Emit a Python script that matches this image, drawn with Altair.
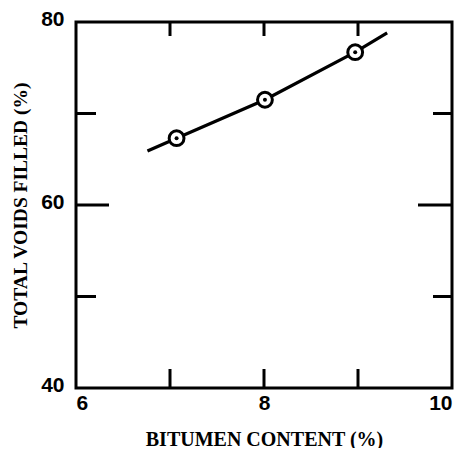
import altair as alt
import pandas as pd

# Data
bitumen = [7.07, 8.01, 8.97]
voids_filled = [67.3, 71.5, 76.7]
# fitted curve drawn through the points
curve_x = [6.76, 7.07, 8.01, 8.97, 9.31]
curve_y = [65.9, 67.3, 71.5, 76.7, 78.8]

x_labels = [6, 8, 10]
y_labels = [40, 60, 80]
x_minor = [7, 8, 9]
y_minor = [50, 70]
y_major = [60]

W, H = 376, 366
XT = "BITUMEN CONTENT (%)"
YT = "TOTAL VOIDS FILLED (%)"

pts = pd.DataFrame({"x": bitumen, "y": voids_filled})
curve = pd.DataFrame({"x": curve_x, "y": curve_y})
xt = pd.DataFrame({"x": x_minor})
ytm = pd.DataFrame({"y": y_minor})
ytM = pd.DataFrame({"y": y_major})

xs = alt.Scale(domain=[6, 10], nice=False, zero=False)
ys = alt.Scale(domain=[40, 80], nice=False, zero=False)

xax = alt.Axis(values=x_labels, title=XT, format="d", labelPadding=4,
               titlePadding=16, titleFontSize=20)
yax = alt.Axis(values=y_labels, title=YT, format="d", labelPadding=12,
               labelOffset=-3, titlePadding=10, titleFontSize=19.5)

xp = alt.X("x:Q", scale=xs, axis=xax)
yp = alt.Y("y:Q", scale=ys, axis=yax)

line = alt.Chart(curve).mark_line(color="black", strokeWidth=3.2).encode(
    x=xp, y=yp, order=alt.Order("x:Q"))

circles = alt.Chart(pts).mark_point(shape="circle", size=220, filled=False,
                                    fill="white", fillOpacity=1, color="black",
                                    strokeWidth=3, opacity=1).encode(x=xp, y=yp)
dots = alt.Chart(pts).mark_point(shape="circle", size=16, filled=True,
                                 color="black", opacity=1).encode(x=xp, y=yp)

tick_style = dict(color="black", strokeWidth=3)
bottom_ticks = alt.Chart(xt).mark_rule(**tick_style).encode(
    x=xp, y=alt.value(H), y2=alt.value(H - 19))
top_ticks = alt.Chart(xt).mark_rule(**tick_style).encode(
    x=xp, y=alt.value(0), y2=alt.value(14))
left_minor = alt.Chart(ytm).mark_rule(**tick_style).encode(
    y=yp, x=alt.value(0), x2=alt.value(20))
right_minor = alt.Chart(ytm).mark_rule(**tick_style).encode(
    y=yp, x=alt.value(W), x2=alt.value(W - 19))
left_major = alt.Chart(ytM).mark_rule(**tick_style).encode(
    y=yp, x=alt.value(0), x2=alt.value(33))
right_major = alt.Chart(ytM).mark_rule(**tick_style).encode(
    y=yp, x=alt.value(W), x2=alt.value(W - 34))

chart = alt.layer(
    line, bottom_ticks, top_ticks, left_minor, right_minor, left_major, right_major,
    circles, dots
).properties(
    width=W, height=H,
    autosize=alt.AutoSizeParams(type="none"),
    padding={"left": 68, "top": 14, "right": 14, "bottom": 60},
    background="white",
).configure_view(
    stroke="black", strokeWidth=3
).configure_axis(
    domain=False, ticks=False, grid=False,
    labelFont="Liberation Sans", labelFontSize=21, labelFontWeight="bold",
    labelColor="black",
    titleFont="Liberation Serif", titleFontWeight="bold",
    titleColor="black",
)

chart.save("out.html", embed_options={"renderer": "svg", "actions": False})
